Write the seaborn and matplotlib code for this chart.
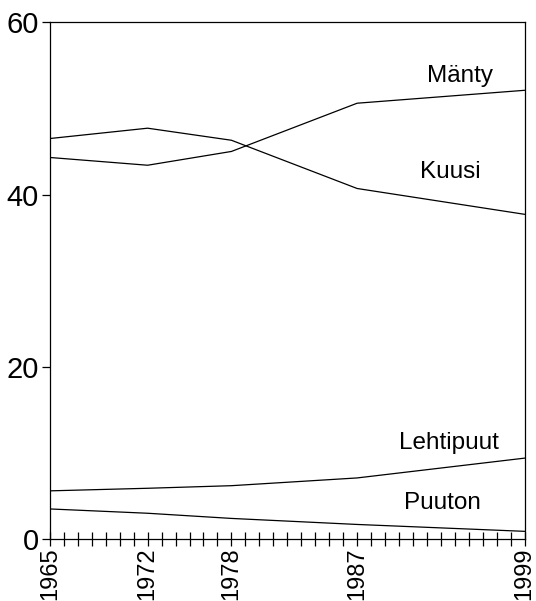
import pandas as pd
import numpy as np
import matplotlib.pyplot as plt
import seaborn as sns
from matplotlib.ticker import MultipleLocator

# data
years = [1965, 1972, 1978, 1987, 1999]
manty = [44.3, 43.4, 45.0, 50.6, 52.1]
kuusi = [46.5, 47.7, 46.3, 40.7, 37.7]
lehtipuut = [5.6, 5.9, 6.2, 7.1, 9.4]
puuton = [3.5, 3.0, 2.4, 1.7, 0.9]

series_names = ["Mänty", "Kuusi", "Lehtipuut", "Puuton"]
label_x = [1994.4, 1993.7, 1993.55, 1993.1]
label_y = [53.8, 42.6, 11.1, 4.2]

df = pd.DataFrame({
    "year": years * 4,
    "value": manty + kuusi + lehtipuut + puuton,
    "species": sum([[n] * len(years) for n in series_names], []),
})

sns.set_theme(style="ticks")
plt.rcParams['font.family'] = ['Liberation Sans', 'DejaVu Sans']
plt.rcParams['text.color'] = 'black'

fig = plt.figure(figsize=(5.36, 6.01), dpi=100)
ax = fig.add_axes([0.093, 0.103, 0.886, 0.860])

sns.lineplot(data=df, x="year", y="value", hue="species",
             palette={n: "black" for n in series_names},
             linewidth=0.9, legend=False, ax=ax)

for name, lx, ly in zip(series_names, label_x, label_y):
    ax.text(lx, ly, name, ha="center", va="center", fontsize=17.5, color="black")

ax.set_xlim(1965, 1999)
ax.set_ylim(0, 60)
ax.set_xlabel("")
ax.set_ylabel("")

ax.set_yticks([0, 20, 40, 60])
ax.set_xticks(years)
ax.set_xticklabels([str(y) for y in years], rotation=90, fontsize=17)
ax.tick_params(axis="y", labelsize=21, length=6, width=0.9, pad=2,
               direction="out", color="black", labelcolor="black")
ax.tick_params(axis="x", which="major", length=0, pad=6, labelcolor="black")
ax.xaxis.set_minor_locator(MultipleLocator(1))
ax.xaxis.remove_overlapping_locs = False
ax.tick_params(axis="x", which="minor", direction="inout", length=10,
               width=0.9, color="black")

for s in ax.spines.values():
    s.set_linewidth(0.9)
    s.set_color("black")

plt.savefig("out.png", dpi=100)
